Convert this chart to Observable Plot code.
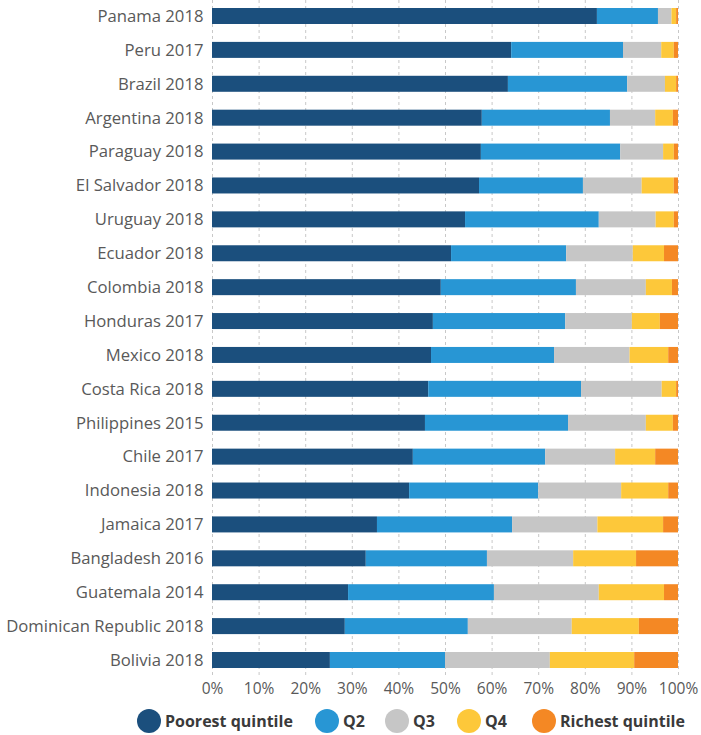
<!DOCTYPE html>
<html>
<head>
<meta charset="utf-8">
<script src="https://cdn.jsdelivr.net/npm/d3@7"></script>
<script src="https://cdn.jsdelivr.net/npm/@observablehq/plot@0.6"></script>
<style>
  html, body { margin: 0; padding: 0; background: #fff; }
  body { width: 701px; height: 735px; overflow: hidden; font-family: "Open Sans", sans-serif; }
  #chart svg { display: block; }
  #legend { position: relative; margin-top: 9px; height: 24px; }
  .item { position: absolute; top: 0; display: flex; align-items: center; }
  .sw { width: 24px; height: 24px; border-radius: 50%; margin-right: 4px; }
  .lab { font-weight: 700; font-size: 16px; color: #3a3a3a; line-height: 24px; white-space: nowrap; }
</style>
</head>
<body>
<div id="chart"></div>
<div id="legend"></div>
<script>
const countries = ["Panama 2018","Peru 2017","Brazil 2018","Argentina 2018","Paraguay 2018","El Salvador 2018","Uruguay 2018","Ecuador 2018","Colombia 2018","Honduras 2017","Mexico 2018","Costa Rica 2018","Philippines 2015","Chile 2017","Indonesia 2018","Jamaica 2017","Bangladesh 2016","Guatemala 2014","Dominican Republic 2018","Bolivia 2018"];
const quintiles = ["Poorest quintile","Q2","Q3","Q4","Richest quintile"];
const colors = ["#1b4f7d","#2896d4","#c6c6c6","#fdc83a","#f48824"];
const poorest = [82.6,64.2,63.5,57.9,57.7,57.3,54.3,51.3,49.1,47.4,47.0,46.4,45.7,43.1,42.3,35.4,33.0,29.2,28.5,25.3];
const q2 = [13.1,24.0,25.6,27.5,29.9,22.3,28.7,24.7,29.0,28.4,26.4,32.8,30.7,28.4,27.7,29.0,26.0,31.3,26.4,24.7];
const q3 = [2.9,8.2,8.1,9.7,9.2,12.6,12.2,14.3,15.0,14.3,16.2,17.3,16.7,15.0,17.8,18.3,18.5,22.5,22.3,22.5];
const q4 = [1.0,2.7,2.4,3.8,2.3,6.9,3.9,6.7,5.6,6.0,8.3,3.1,5.8,8.6,10.1,14.1,13.5,14.0,14.4,18.1];
const richest = [0.4,0.9,0.4,1.1,0.9,0.9,0.9,3.0,1.3,3.9,2.1,0.4,1.1,4.9,2.1,3.2,9.0,3.0,8.4,9.4];
const xTicks = [0,10,20,30,40,50,60,70,80,90,100];
const legendLeft = [137,315,385,457,532];

const series = [poorest, q2, q3, q4, richest];
const rows = [];
countries.forEach((c, i) => {
  quintiles.forEach((q, j) => rows.push({country: c, quintile: q, value: series[j][i]}));
});

const chart = Plot.plot({
  width: 701,
  height: 700,
  marginLeft: 212,
  marginRight: 23,
  marginTop: 0,
  marginBottom: 24,
  style: {fontFamily: "'Open Sans', sans-serif", background: "#fff", overflow: "visible"},
  x: {domain: [0, 100], ticks: xTicks, tickFormat: d => d + "%", label: null},
  y: {domain: countries, paddingInner: 0.528, paddingOuter: 0.236, round: false, label: null},
  color: {domain: quintiles, range: colors},
  marks: [
    Plot.gridX(xTicks, {stroke: "#c8c8c8", strokeOpacity: 1, strokeDasharray: "3,3", strokeWidth: 1}),
    Plot.barX(rows, Plot.stackX({x: "value", y: "country", fill: "quintile", order: quintiles})),
    Plot.axisX(xTicks, {tickSize: 0, tickPadding: 6, tickFormat: d => d + "%", fontSize: 15.5, fill: "#595959", label: null}),
    Plot.axisY({tickSize: 0, tickPadding: 9, fontSize: 16.7, fill: "#595959", label: null})
  ]
});
document.getElementById("chart").appendChild(chart);

const legend = document.getElementById("legend");
quintiles.forEach((q, i) => {
  const it = document.createElement("div");
  it.className = "item";
  it.style.left = legendLeft[i] + "px";
  const sw = document.createElement("div");
  sw.className = "sw";
  sw.style.background = colors[i];
  const lb = document.createElement("span");
  lb.className = "lab";
  lb.textContent = q;
  it.appendChild(sw); it.appendChild(lb);
  legend.appendChild(it);
});
</script>
</body>
</html>
